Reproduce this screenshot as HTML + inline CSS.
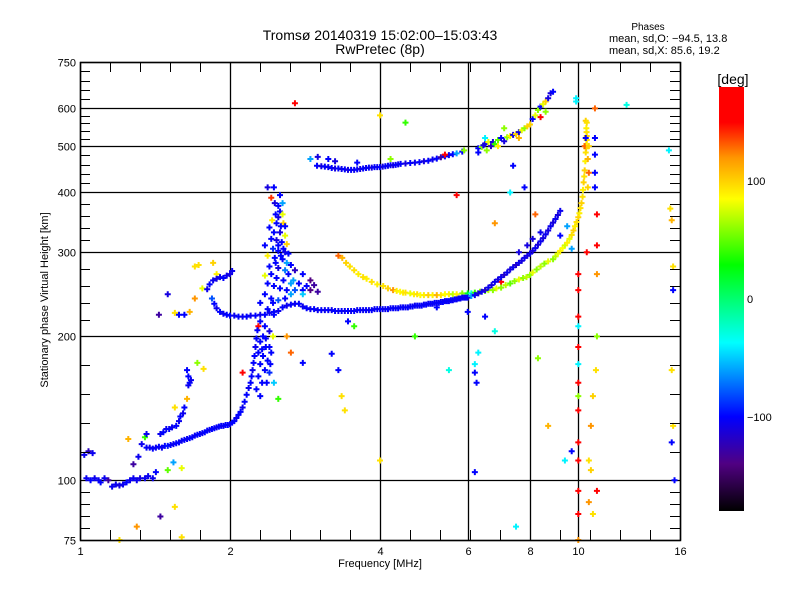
<!DOCTYPE html>
<html><head><meta charset="utf-8"><style>
body{margin:0;background:#fff;}
svg{display:block;font-family:"Liberation Sans",sans-serif;}
</style></head><body>
<svg id="chart" width="800" height="600" viewBox="0 0 800 600">
<rect x="0" y="0" width="800" height="600" fill="#fff"/>
<text x="380" y="40" font-size="14" text-anchor="middle">Tromsø 20140319 15:02:00–15:03:43</text>
<text x="380" y="54" font-size="14" text-anchor="middle">RwPretec (8p)</text>
<text x="648" y="30" font-size="10" text-anchor="middle">Phases</text>
<text x="609" y="42" font-size="11">mean, sd,O: −94.5, 13.8</text>
<text x="609" y="54" font-size="11">mean, sd,X:  85.6, 19.2</text>
<text x="380" y="567" font-size="11" text-anchor="middle">Frequency [MHz]</text>
<text x="48" y="300" font-size="11" text-anchor="middle" transform="rotate(-90 48 300)">Stationary phase Virtual Height [km]</text>
<g id="grid"></g>
<g id="points"></g>
<g id="axes"></g>
<g id="cbar"></g>
</svg>
<script>
const xTickVals=[1,2,4,6,8,10,16];
const yTickVals=[75,100,200,300,400,500,600,750];
const cbarTicks=[100,0,-100];
// [freq MHz, height km, phase deg]
const oLowTrace=[[1.02,113,-105],[1.04,115,-120],[1.06,114,-105],[1.03,101,-105],[1.05,100,-100],[1.07,101,-105],[1.09,100,-105],[1.1,99,-100],[1.12,101,-105],[1.14,100,-130],[1.16,97,-105],[1.18,98,-105],[1.2,97.5,-110],[1.22,98,-105],[1.24,99,-100],[1.26,100,-105],[1.28,101,-105],[1.3,100,-105],[1.32,101,-110],[1.35,101,-105],[1.37,102,-105],[1.4,101,-105],[1.42,104,-100],[1.28,108,-130],[1.31,112,-105],[1.33,119,-105],[1.36,125,-105]];
const oETrace=[[1.36,117,-100],[1.38,117,-105],[1.4,116.5,-100],[1.42,117,-105],[1.44,117.5,-100],[1.46,117,-105],[1.48,118,-100],[1.5,118,-95],[1.52,118.5,-100],[1.54,119,-105],[1.56,119.5,-100],[1.58,120,-100],[1.6,121,-105],[1.62,121.5,-100],[1.64,122,-105],[1.66,122.5,-100],[1.68,123,-100],[1.7,124,-105],[1.72,124.5,-100],[1.74,125,-100],[1.76,125.5,-105],[1.78,126,-100],[1.8,127,-100],[1.82,127.5,-105],[1.84,128,-100],[1.86,128.5,-100],[1.88,129,-105],[1.9,129.5,-100],[1.92,130,-100],[1.94,130,-105],[1.96,130.5,-100],[1.98,130.5,-100],[2.0,131,-105],[2.02,132,-100],[2.04,133,-100],[2.06,135,-105],[2.08,137,-100],[2.1,139,-100],[2.12,142,-105],[2.14,146,-100],[2.16,151,-100],[2.18,156,-105],[2.2,160,-100],[2.21,165,-100],[2.22,170,-105],[2.23,176,-100],[2.24,182,-100],[2.25,190,-105],[2.26,198,-100],[2.27,206,-100]];
const oE2Trace=[[1.45,125,-105],[1.47,126,-100],[1.49,128,-105],[1.51,128,-100],[1.53,129,-105],[1.56,130,-100],[1.58,133,-105],[1.59,136,-100],[1.61,138,-105],[1.62,142,-100],[1.65,158,-105],[1.66,160,-100],[1.67,162,-105],[1.65,165,-100],[1.64,170,-100]];
const oFTrace=[[1.8,251,-105],[1.82,257,-100],[1.85,262,-105],[1.88,264,-110],[1.91,266,-105],[1.94,265,-100],[1.97,268,-105],[2.0,270,-110],[2.02,274,-105],[1.84,240,-80],[1.86,234,-100],[1.88,229,-105],[1.91,225,-100],[1.94,223,-105],[1.97,222,-100],[2.0,221,-100],[2.04,221,-105],[2.08,220,-100],[2.12,220,-105],[2.16,220,-100],[2.2,221,-105],[2.25,221,-100],[2.3,222,-105],[2.35,222,-100],[2.4,224,-105],[2.45,225,-100],[2.5,226,-105],[2.55,230,-100],[2.6,232,-105],[2.65,233,-100],[2.7,234,-105],[2.75,234,-100],[2.8,231,-105],[2.85,229,-100],[2.9,228,-105],[2.95,228,-100],[3.0,227,-105],[3.05,227,-100],[3.1,227,-105],[3.15,227,-100],[3.2,227,-105],[3.25,226,-100],[3.3,226,-105],[3.35,226,-100],[3.4,226,-105],[3.45,226,-100],[3.5,226,-105],[3.55,226,-100],[3.6,227,-105],[3.65,227,-100],[3.7,227,-105],[3.75,227,-100],[3.8,227,-105],[3.85,227,-100],[3.9,228,-105],[3.95,228,-100],[4.0,228,-105],[4.05,228,-100],[4.1,228,-105],[4.15,228,-100],[4.2,229,-105],[4.25,229,-100],[4.3,229,-105],[4.35,229,-100],[4.4,230,-105],[4.45,230,-100],[4.5,230,-105],[4.55,230,-100],[4.6,231,-105],[4.65,231,-100],[4.7,232,-105],[4.75,232,-100],[4.8,232,-105],[4.85,232,-100],[4.9,233,-105],[4.95,233,-100],[5.0,234,-105],[5.05,234,-100],[5.1,234,-105],[5.15,235,-100],[5.2,235,-105],[5.25,235,-100],[5.3,236,-105],[5.35,236,-100],[5.4,237,-105],[5.45,237,-100],[5.5,237,-105],[5.55,238,-100],[5.6,238,-105],[5.65,239,-100],[5.7,239,-105],[5.75,240,-100],[5.8,240,-105],[5.85,241,-100],[5.9,241,-105],[5.95,241,-100],[6.0,241,-105],[6.1,243,-60],[6.2,244,-105],[6.3,246,-110],[6.4,248,-105],[6.5,250,-115],[6.6,253,-105],[6.7,256,-110],[6.8,260,-105],[6.9,263,-110],[7.0,266,-105],[7.1,269,-115],[7.2,272,-105],[7.3,276,-110],[7.4,279,-105],[7.5,282,-115],[7.6,285,-105],[7.7,288,-110],[7.8,292,-105],[7.9,295,-110],[8.0,298,-105],[8.1,302,-110],[8.2,306,-105],[8.3,311,-110],[8.4,316,-105],[8.5,321,-110],[8.6,327,-105],[8.7,333,-110],[8.8,340,-105],[8.9,346,-110],[9.0,352,-105],[9.1,359,-110],[9.2,366,-105],[7.6,300,-110],[7.9,310,-110],[8.1,320,-110],[8.4,330,-105]];
const xTrace=[[3.3,295,130],[3.36,292,110],[3.42,285,100],[3.48,280,95],[3.55,275,95],[3.62,270,90],[3.7,266,95],[3.76,264,90],[3.85,260,95],[3.95,257,90],[4.06,255,95],[4.15,252,100],[4.25,250,120],[4.32,249,90],[4.39,248,85],[4.45,247,90],[4.5,247,95],[4.6,246,80],[4.68,245,90],[4.75,245,95],[4.82,244,85],[4.9,244,90],[5.0,244,100],[5.1,244,90],[5.2,244,110],[5.3,244,95],[5.4,245,85],[5.5,245,90],[5.6,245,70],[5.7,245,90],[5.85,246,60],[6.0,246,20],[6.1,246,-30],[6.2,247,40],[6.35,248,60],[6.5,249,50],[6.6,250,70],[6.74,250,60],[6.85,252,80],[7.0,253,60],[7.15,256,70],[7.3,258,50],[7.45,261,60],[7.6,263,80],[7.75,265,60],[7.87,266,70],[8.0,269,60],[8.1,272,80],[8.25,276,60],[8.4,280,70],[8.55,284,60],[8.7,287,80],[8.9,290,60],[9.0,294,70],[9.1,298,80],[9.2,302,90],[9.3,306,85],[9.4,310,75],[9.5,314,90],[9.6,320,80],[9.7,326,95],[9.78,333,100],[9.85,340,90],[9.92,347,95],[10.0,355,100],[10.05,362,90],[10.1,371,95],[10.15,380,100],[10.2,392,95],[10.22,405,90],[10.25,420,100],[10.28,432,95],[10.3,445,100],[10.33,465,90],[10.35,485,95],[10.37,495,100],[10.38,505,90],[10.4,515,95],[10.4,525,100],[10.39,535,95],[10.38,545,90],[10.35,565,100],[10.45,470,110],[10.5,440,130],[10.45,410,100],[10.3,500,130],[10.35,520,-100],[10.5,500,100],[10.4,560,95]];
const oTopTrace=[[2.99,455,-100],[3.05,454,-110],[3.1,453,-100],[3.15,452,-105],[3.2,450,-100],[3.25,449,-110],[3.3,449,-100],[3.35,448,-105],[3.4,447,-100],[3.45,446,-110],[3.5,446,-100],[3.55,446,-105],[3.6,447,-100],[3.65,448,-110],[3.7,449,-100],[3.75,450,-105],[3.8,451,-100],[3.85,451,-110],[3.9,452,-100],[3.95,452,-105],[4.0,452,-100],[4.05,453,-110],[4.1,454,-100],[4.15,455,-105],[4.2,456,-100],[4.25,456,-110],[4.3,457,-100],[4.35,458,-105],[4.4,459,-100],[4.5,460,-110],[4.6,461,-100],[4.7,462,-105],[4.8,463,-100],[4.9,465,-110],[5.0,466,-100],[5.1,469,-105],[5.2,471,-100],[5.3,474,-130],[5.4,476,-100],[5.5,479,-105],[5.6,481,-100],[5.7,483,-60],[5.85,487,-100],[3.0,475,-110],[3.15,470,-100],[3.25,465,-110],[2.9,470,-60],[3.6,462,-100],[4.2,470,60],[5.4,480,150],[5.9,490,60]];
const upperCluster=[[6.3,495,-100],[6.4,498,60],[6.45,502,-110],[6.5,505,-110],[6.55,490,60],[6.6,510,80],[6.68,500,-120],[6.74,510,-110],[6.8,505,40],[6.9,515,50],[7.0,520,-100],[7.1,512,-110],[7.2,522,60],[7.3,525,90],[7.4,528,-110],[7.5,530,100],[7.6,535,-110],[7.7,540,80],[7.8,545,60],[7.9,550,100],[8.0,555,100],[8.1,570,-100],[8.2,580,80],[8.3,595,60],[8.4,605,-100],[8.5,612,80],[8.6,620,100],[8.7,630,-110],[8.8,645,-110],[8.9,650,-100],[6.5,520,-40],[7.1,545,60],[7.6,520,110],[8.4,575,150],[8.6,590,60],[6.3,485,-100],[6.9,500,90]];
const spreadCluster=[[2.38,410,-110],[2.45,410,-100],[2.42,390,140],[2.46,380,-110],[2.5,375,-100],[2.52,365,-100],[2.55,360,80],[2.5,355,-110],[2.48,345,-100],[2.56,345,100],[2.58,340,-100],[2.4,338,-100],[2.45,330,-100],[2.52,330,-110],[2.58,325,80],[2.42,320,-100],[2.48,318,-110],[2.54,315,-100],[2.6,312,100],[2.35,310,-100],[2.44,305,-90],[2.5,302,-100],[2.58,300,-110],[2.62,298,-100],[2.38,295,90],[2.46,292,-100],[2.55,290,-100],[2.6,285,-60],[2.65,282,-100],[2.4,280,-100],[2.5,278,-110],[2.58,275,-70],[2.7,275,-120],[2.8,270,-100],[2.35,268,80],[2.48,265,-100],[2.56,262,-100],[2.65,258,-60],[2.75,258,-100],[2.9,262,-140],[2.45,255,-100],[2.52,252,-100],[2.6,250,-100],[2.7,250,-80],[2.8,250,-100],[2.9,250,-140],[3.0,248,-130],[2.35,245,-100],[2.42,240,-100],[2.5,238,-80],[2.58,240,-100],[2.65,245,-60],[2.8,245,-50],[2.3,235,-100],[2.38,228,-100],[2.45,222,-100],[2.3,215,-100],[2.35,210,-100],[2.4,205,-110],[2.33,200,-100],[2.3,195,-100],[2.36,190,-100],[2.28,185,-100],[2.33,182,-100],[2.38,178,-100],[2.3,175,-100],[2.35,170,-100],[2.4,168,-90],[2.28,165,-100],[2.32,160,-100],[2.26,155,-100],[2.3,150,-100],[2.4,190,-100],[2.42,185,-100],[2.41,175,-100],[2.44,200,80],[2.28,210,150],[2.52,395,-100],[2.55,380,-60],[2.47,360,-100],[2.53,340,-100],[2.43,350,90],[2.5,310,-100],[2.56,305,-100],[2.62,270,-100],[2.68,262,-60],[2.85,255,-100],[2.95,256,-130],[2.38,258,-100],[2.42,270,-100],[2.47,285,-100],[2.53,295,-100],[2.44,235,-100],[2.36,198,-100],[2.32,188,-100],[2.37,160,-100]];
const scatterPts=[[1.2,75,95],[1.3,80,120],[1.45,84,-130],[1.55,88,95],[1.6,76,95],[1.25,122,110],[1.35,123,40],[1.5,105,50],[1.6,106,80],[1.54,109,-60],[1.55,142,95],[1.64,148,110],[1.72,176,60],[1.77,171,95],[1.44,222,-130],[1.55,224,95],[1.58,222,-100],[1.62,222,-100],[1.66,225,110],[1.7,240,120],[1.5,245,-110],[1.7,280,95],[1.73,282,95],[1.85,285,100],[1.88,270,90],[1.76,252,80],[2.12,168,170],[2.5,148,40],[2.45,160,-50],[2.6,200,120],[2.65,185,130],[2.8,176,-100],[3.2,184,-100],[3.35,150,95],[3.4,140,95],[3.3,170,-100],[3.45,215,-100],[3.55,210,40],[4.0,110,95],[4.0,580,95],[4.5,560,40],[2.7,615,150],[4.7,200,40],[5.2,230,-100],[5.5,170,-30],[6.0,225,-100],[6.2,175,-40],[6.2,168,-100],[6.25,160,-100],[6.3,185,-40],[6.2,104,-100],[6.5,220,-100],[6.8,205,-30],[7.0,260,150],[5.7,395,150],[6.8,345,120],[7.4,455,-100],[7.3,400,-40],[7.5,80,-40],[8.2,360,130],[9.2,325,-100],[9.5,340,-60],[9.7,305,-60],[9.9,630,-40],[9.9,620,-40],[10.0,270,170],[10.0,250,160],[10.0,220,165],[10.0,190,170],[10.0,160,165],[10.0,140,170],[10.0,120,160],[10.0,110,165],[10.0,95,170],[10.0,85,165],[10.0,210,-40],[10.0,175,-40],[10.0,150,60],[10.0,75,120],[10.8,600,130],[10.8,520,-100],[10.8,480,-100],[10.8,440,-100],[10.8,410,-100],[10.9,360,170],[10.9,310,150],[10.9,270,120],[10.9,200,60],[10.85,170,95],[10.7,150,100],[10.6,130,120],[10.5,110,95],[10.6,105,100],[10.9,95,170],[10.7,85,95],[12.5,610,-30],[15.2,490,-40],[15.3,370,95],[15.4,350,110],[15.5,280,95],[15.5,250,-100],[15.4,170,95],[15.5,130,95],[15.4,120,-100],[15.6,100,-100],[10.5,90,120],[10.4,300,150],[8.7,130,110],[9.7,115,-100],[9.4,110,-40],[8.3,180,60],[7.8,410,-100]];

const X0=80,X1=680,Y0=540,Y1=62;
function xScale(f){return X0+(X1-X0)*Math.log(f)/Math.log(16);}
function yScale(h){return Y0-(Y0-Y1)*Math.log10(h/75)/Math.log10(10);}
const CB_TOP=87,CB_BOT=511;
function cbY(p){return CB_BOT-(p+180)/360*(CB_BOT-CB_TOP);}
const stops=[[-180,[0,0,0]],[-140,[80,0,130]],[-100,[0,0,255]],[-37,[0,255,255]],[29,[0,255,0]],[85,[255,255,0]],[120,[255,150,0]],[150,[255,0,0]],[180,[255,0,0]]];
function pcolor(p){
  for(let i=0;i<stops.length-1;i++){
    const a=stops[i],b=stops[i+1];
    if(p<=b[0]){const t=Math.max(0,(p-a[0])/(b[0]-a[0]));
      const c=a[1].map((v,k)=>Math.round(v+(b[1][k]-v)*t));
      return 'rgb('+c.join(',')+')';}
  }
  return 'rgb(255,0,0)';
}
const NS='http://www.w3.org/2000/svg';
function mk(tag,attrs,parent){const e=document.createElementNS(NS,tag);for(const k in attrs)e.setAttribute(k,attrs[k]);parent.appendChild(e);return e;}

const grid=document.getElementById('grid');
xTickVals.forEach(v=>{
  const x=Math.round(xScale(v))+0.5;
  const l=mk('line',{x1:x,y1:Y1,x2:x,y2:Y0,stroke:'#000','stroke-width':1.3},grid);
  
  
  const t=mk('text',{x:x,y:555,'font-size':11,'text-anchor':'middle'},grid);
  t.textContent=v;
  
  
});
yTickVals.forEach(v=>{
  const y=Math.round(yScale(v))+0.5;
  const l=mk('line',{x1:X0,y1:y,x2:X1,y2:y,stroke:'#000','stroke-width':1.3},grid);
  
  
  const t=mk('text',{x:76,y:y+4,'font-size':11,'text-anchor':'end'},grid);
  t.textContent=v;
  
  
});

const pts=document.getElementById('points');
function drawSeries(arr,name){
  arr.forEach(d=>{
    const x=xScale(d[0]),y=yScale(d[1]),c=pcolor(d[2]);
    const p=mk('path',{d:'M'+(x-3)+' '+y+'h6M'+x+' '+(y-3)+'v6',stroke:c,'stroke-width':2,fill:'none'},pts);
    
    
  });
}
drawSeries(scatterPts,'scatter-point');
drawSeries(spreadCluster,'spread-point');
drawSeries(xTrace,'x-trace-point');
drawSeries(oLowTrace,'o-low-trace-point');
drawSeries(oETrace,'o-e-trace-point');
drawSeries(oE2Trace,'o-e2-trace-point');
drawSeries(oFTrace,'o-f-trace-point');
drawSeries(oTopTrace,'o-top-trace-point');
drawSeries(upperCluster,'upper-cluster-point');

const axes=document.getElementById('axes');
const fr=mk('rect',{x:X0+0.5,y:Y1+0.5,width:X1-X0,height:Y0-Y1,fill:'none',stroke:'#000','stroke-width':1.5},axes);


for(let x=X0+30;x<X1;x+=30){
  mk('line',{x1:x+0.5,y1:Y0,x2:x+0.5,y2:Y0-10,stroke:'#000'},axes);
  mk('line',{x1:x+0.5,y1:Y1,x2:x+0.5,y2:Y1+10,stroke:'#000'},axes);
}
for(let i=0;i<yTickVals.length-1;i++){
  const ya=yScale(yTickVals[i]),yb=yScale(yTickVals[i+1]);
  for(let k=1;k<5;k++){
    const y=Math.round(ya+(yb-ya)*k/5)+0.5;
    mk('line',{x1:X0,y1:y,x2:X0+10,y2:y,stroke:'#000'},axes);
    mk('line',{x1:X1-10,y1:y,x2:X1,y2:y,stroke:'#000'},axes);
  }
}

const cb=document.getElementById('cbar');
const defs=mk('defs',{},cb);
const grad=mk('linearGradient',{id:'cg',x1:0,y1:1,x2:0,y2:0},defs);
stops.forEach(s=>{mk('stop',{offset:((s[0]+180)/360),'stop-color':'rgb('+s[1].join(',')+')'},grad);});
const cr=mk('rect',{x:719,y:CB_TOP,width:25,height:CB_BOT-CB_TOP,fill:'url(#cg)'},cb);


const ct=mk('text',{x:733,y:84,'font-size':14,'text-anchor':'middle'},cb);
ct.textContent='[deg]';


cbarTicks.forEach(v=>{
  const t=mk('text',{x:747,y:cbY(v)+4,'font-size':11},cb);
  t.textContent=(v<0?'−':'')+Math.abs(v);
  
  
});
</script>
</body></html>
